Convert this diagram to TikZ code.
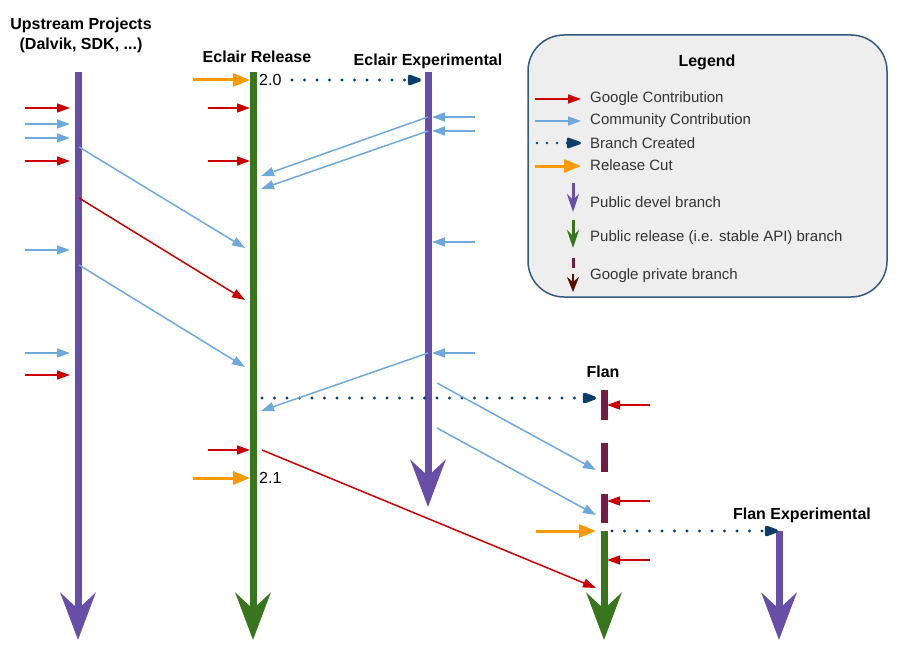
\documentclass[tikz,border=0pt]{standalone}
\usepackage{fontspec}
\setmainfont{Liberation Sans}
\usetikzlibrary{arrows.meta}
\definecolor{cpurple}{HTML}{674EA7}
\definecolor{cgreen}{HTML}{38761D}
\definecolor{cred}{HTML}{CC0000}
\definecolor{cblue}{HTML}{6FA8DC}
\definecolor{corange}{HTML}{FF9900}
\definecolor{cnavy}{HTML}{0B3D6B}
\definecolor{cmaroon}{HTML}{741B47}
\definecolor{cdarkred}{HTML}{5B0F00}
\definecolor{clegfill}{HTML}{EEEEEE}
\definecolor{clegdraw}{HTML}{34597F}
\tikzset{
  bar/.style={line width=7pt},
  bigarrow/.style={line width=7pt,-{Stealth[length=47pt,width=35pt,inset=16pt]}},
  thinarrow/.style={line width=1.5pt,-{Triangle[length=13pt,width=9pt]}},
  cutarrow/.style={line width=3pt,corange,-{Triangle[length=17pt,width=13pt]}},
  brancharrow/.style={line width=3.4pt,cnavy,line cap=round,dash pattern=on 0pt off 12.5pt,-{Triangle[length=17pt,width=11pt,round]}},
  title/.style={font=\fontsize{16}{18}\selectfont\bfseries,inner sep=0pt},
  vers/.style={font=\fontsize{16}{18}\selectfont,inner sep=0pt,anchor=west},
  legtext/.style={font=\fontsize{15}{17}\selectfont,inner sep=0pt,anchor=west,text=black!80},
}
\begin{document}
\begin{tikzpicture}[x=1pt,y=-1pt]
\useasboundingbox (0,0) rectangle (902,666);

% ---------- titles ----------
\node[title] (tup1) at (81,25) {Upstream Projects};
\node[title] (tup2) at (81,45) {(Dalvik, SDK, ...)};
\node[title] (trel) at (257,57) {Eclair Release};
\node[title] (texp) at (428,61) {Eclair Experimental};
\node[title] (tflan) at (603,372) {Flan};
\node[title] (tflanx) at (802,515) {Flan Experimental};

% ---------- legend ----------
\node[draw=clegdraw,fill=clegfill,line width=1.5pt,rounded corners=36pt,minimum width=359pt,minimum height=262pt] (legend) at (707.5,166) {};
\node[font=\fontsize{16}{18}\selectfont\bfseries,inner sep=0pt] (legtitle) at (707,62) {Legend};
\coordinate (lg1s) at (535,99);  \coordinate (lg1e) at (581,99);
\coordinate (lg2s) at (535,121); \coordinate (lg2e) at (581,121);
\coordinate (lg3s) at (537,143); \coordinate (lg3e) at (581,143);
\coordinate (lg4s) at (535,166); \coordinate (lg4e) at (581,166);
\coordinate (lg5s) at (573,183); \coordinate (lg5e) at (573,212);
\coordinate (lg6s) at (573,220); \coordinate (lg6e) at (573,248);
\coordinate (lg7s) at (573,258); \coordinate (lg7e) at (573,268);
\coordinate (lg8s) at (573,274); \coordinate (lg8e) at (573,292);
\draw[thinarrow,cred] (lg1s) -- (lg1e);
\draw[thinarrow,cblue] (lg2s) -- (lg2e);
\draw[brancharrow,line width=2.6pt,dash pattern=on 0pt off 10pt] (lg3s) -- (lg3e);
\draw[cutarrow] (lg4s) -- (lg4e);
\draw[line width=3pt,cpurple,-{Stealth[length=18pt,width=12pt,inset=6pt]}] (lg5s) -- (lg5e);
\draw[line width=3pt,cgreen,-{Stealth[length=18pt,width=12pt,inset=6pt]}] (lg6s) -- (lg6e);
\draw[line width=3pt,cmaroon] (lg7s) -- (lg7e);
\draw[line width=2pt,cdarkred,-{Stealth[length=15pt,width=12pt,inset=5pt]}] (lg8s) -- (lg8e);
\node[legtext] (l1) at (590,99) {Google Contribution};
\node[legtext] (l2) at (590,121) {Community Contribution};
\node[legtext] (l3) at (590,143) {Branch Created};
\node[legtext] (l4) at (590,165) {Release Cut};
\node[legtext] (l5) at (590,202) {Public devel branch};
\node[legtext] (l6) at (590,238) {Public release (i.e. stable API) branch};
\node[legtext] (l7) at (590,276) {Google private branch};

% ---------- bars ----------
\coordinate (upT) at (78,72);   \coordinate (upB) at (78,640);
\coordinate (relT) at (253,72); \coordinate (relB) at (253,640);
\coordinate (expT) at (428,72); \coordinate (expB) at (428,507);
\coordinate (fl1T) at (604,390); \coordinate (fl1B) at (604,420);
\coordinate (fl2T) at (604,443); \coordinate (fl2B) at (604,472);
\coordinate (fl3T) at (604,494); \coordinate (fl3B) at (604,523);
\coordinate (flgT) at (604,531); \coordinate (flgB) at (604,640);
\coordinate (fxT) at (779,531);  \coordinate (fxB) at (779,640);
\draw[bigarrow,cpurple] (upT) -- (upB);
\draw[bigarrow,cgreen] (relT) -- (relB);
\draw[bigarrow,cpurple] (expT) -- (expB);
\draw[bar,cmaroon] (fl1T) -- (fl1B);
\draw[bar,cmaroon] (fl2T) -- (fl2B);
\draw[bar,cmaroon] (fl3T) -- (fl3B);
\draw[bigarrow,cgreen] (flgT) -- (flgB);
\draw[bigarrow,cpurple] (fxT) -- (fxB);

% ---------- version labels ----------
\node[vers] (v20) at (259,80) {2.0};
\node[vers] (v21) at (259,478) {2.1};

% ---------- incoming to upstream ----------
\foreach \y/\c [count=\i] in {108/cred,124/cblue,138/cblue,161/cred,250/cblue,353/cblue,375/cred}{
  \coordinate (ui\i s) at (25,\y);
  \coordinate (ui\i e) at (70,\y);
  \draw[thinarrow,\c] (ui\i s) -- (ui\i e);
}
% ---------- incoming to release ----------
\foreach \y [count=\i] in {108,161,450}{
  \coordinate (ri\i s) at (208,\y);
  \coordinate (ri\i e) at (250,\y);
  \draw[thinarrow,cred] (ri\i s) -- (ri\i e);
}
\coordinate (rc1s) at (193,80);  \coordinate (rc1e) at (250,80);
\coordinate (rc2s) at (193,478); \coordinate (rc2e) at (250,478);
\draw[cutarrow] (rc1s) -- (rc1e);
\draw[cutarrow] (rc2s) -- (rc2e);

% ---------- incoming to experimental ----------
\foreach \y [count=\i] in {117,131,242,353}{
  \coordinate (ei\i s) at (475,\y);
  \coordinate (ei\i e) at (432,\y);
  \draw[thinarrow,cblue] (ei\i s) -- (ei\i e);
}

% ---------- incoming to flan ----------
\foreach \y [count=\i] in {405,501,560}{
  \coordinate (fi\i s) at (650,\y);
  \coordinate (fi\i e) at (607,\y);
  \draw[thinarrow,cred] (fi\i s) -- (fi\i e);
}
\coordinate (fcs) at (536,531); \coordinate (fce) at (596,531);
\draw[cutarrow] (fcs) -- (fce);

% ---------- branches ----------
\coordinate (b1s) at (292,80);  \coordinate (b1e) at (421,80);
\coordinate (b2s) at (262,398); \coordinate (b2e) at (596,398);
\coordinate (b3s) at (612,531); \coordinate (b3e) at (778,531);
\draw[brancharrow] (b1s) -- (b1e);
\draw[brancharrow] (b2s) -- (b2e);
\draw[brancharrow] (b3s) -- (b3e);

% ---------- diagonals upstream -> release ----------
\coordinate (d1s) at (79,147);  \coordinate (d1e) at (245,248);
\coordinate (d2s) at (79,198);  \coordinate (d2e) at (245,300);
\coordinate (d3s) at (79,265);  \coordinate (d3e) at (245,367);
\draw[thinarrow,cblue] (d1s) -- (d1e);
\draw[thinarrow,cred] (d2s) -- (d2e);
\draw[thinarrow,cblue] (d3s) -- (d3e);

% ---------- diagonals experimental -> release ----------
\coordinate (d4s) at (428,117); \coordinate (d4e) at (261,176);
\coordinate (d5s) at (428,131); \coordinate (d5e) at (261,189);
\coordinate (d6s) at (428,353); \coordinate (d6e) at (261,411);
\draw[thinarrow,cblue] (d4s) -- (d4e);
\draw[thinarrow,cblue] (d5s) -- (d5e);
\draw[thinarrow,cblue] (d6s) -- (d6e);

% ---------- diagonals to flan ----------
\coordinate (d7s) at (437,383); \coordinate (d7e) at (596,470);
\coordinate (d8s) at (437,428); \coordinate (d8e) at (596,515);
\coordinate (d9s) at (262,450); \coordinate (d9e) at (596,588);
\draw[thinarrow,cblue] (d7s) -- (d7e);
\draw[thinarrow,cblue] (d8s) -- (d8e);
\draw[thinarrow,cred] (d9s) -- (d9e);
\end{tikzpicture}
\end{document}
